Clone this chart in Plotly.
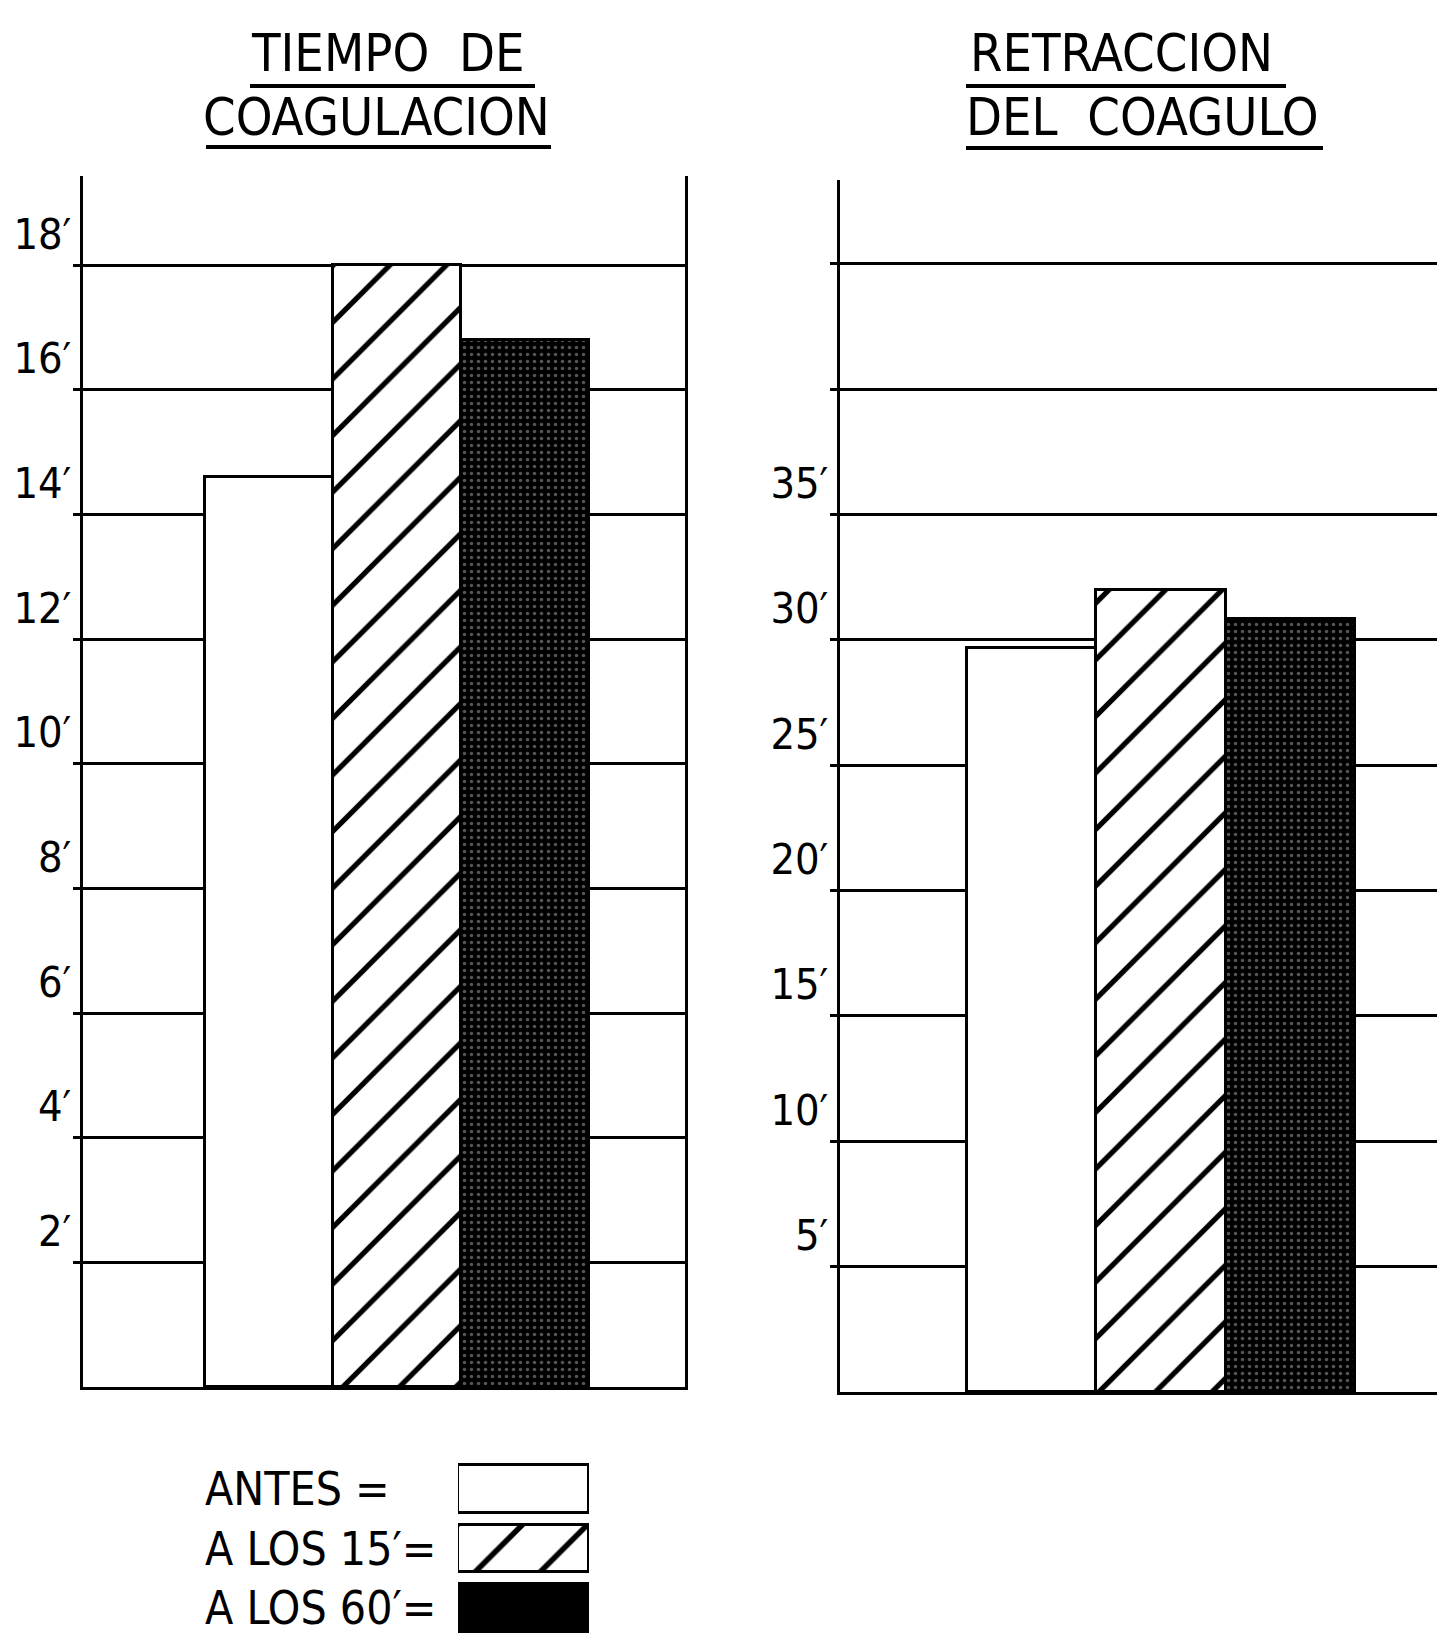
import plotly.graph_objects as go

# ---------------- data ----------------
categories = ["ANTES", "A LOS 15′", "A LOS 60′"]
coag_values = [14.6, 18.0, 16.8]          # minutes, tiempo de coagulacion
retr_values = [29.7, 32.0, 30.85]         # minutes, retraccion del coagulo
coag_tickvals = [2, 4, 6, 8, 10, 12, 14, 16, 18]
coag_ticktext = ["2′", "4′", "6′", "8′", "10′", "12′", "14′", "16′", "18′"]
retr_tickvals = [5, 10, 15, 20, 25, 30, 35, 40, 45]
retr_ticktext = ["5′", "10′", "15′", "20′", "25′", "30′", "35′", "", ""]
legend_labels = ["ANTES =", "A LOS 15′=", "A LOS 60′="]
legend_sizes = [1, 1, 1]

# ---------------- styles ----------------
W, H = 1445, 1636
FONT = "Liberation Sans Narrow, DejaVu Sans Condensed, Liberation Sans, sans-serif"


def px(x):
    return x / W


def py(y):
    return (H - y) / H


fills = ["white", "white", "black"]
patterns = [
    None,
    dict(shape="/", fgcolor="black", bgcolor="white", size=40, solidity=0.13,
         fillmode="replace"),
    dict(shape=".", fgcolor="#555555", bgcolor="black", size=7, solidity=0.2,
         fillmode="replace"),
]
legend_patterns = [
    None,
    dict(shape="/", fgcolor="black", bgcolor="white", size=46, solidity=0.12,
         fillmode="replace"),
    None,
]


def make_marker(i, pats):
    m = dict(color=fills[i], line=dict(color="black", width=3))
    if pats[i] is not None:
        m["pattern"] = pats[i]
    return m


fig = go.Figure()

for i, cat in enumerate(categories):
    fig.add_trace(go.Bar(x=[cat], y=[coag_values[i]], width=1,
                         marker=make_marker(i, patterns),
                         xaxis="x", yaxis="y", showlegend=False, hoverinfo="skip"))
    fig.add_trace(go.Bar(x=[cat], y=[retr_values[i]], width=1,
                         marker=make_marker(i, patterns),
                         xaxis="x2", yaxis="y2", showlegend=False, hoverinfo="skip"))
    fig.add_trace(go.Bar(x=[legend_sizes[i]], y=[cat], orientation="h", width=0.8,
                         marker=make_marker(i, legend_patterns),
                         xaxis="x3", yaxis="y3", showlegend=False, hoverinfo="skip"))

xax_common = dict(showline=True, linecolor="black", linewidth=3, mirror=False,
                  showticklabels=False, showgrid=False, zeroline=False, ticks="",
                  fixedrange=True)
yax_common = dict(showline=True, linecolor="black", linewidth=3, mirror=True,
                  showgrid=True, gridcolor="black", gridwidth=3, zeroline=False,
                  ticks="outside", ticklen=7, tickwidth=3, tickcolor="black",
                  ticklabelposition="outside top",
                  tickfont=dict(family=FONT, size=43, color="black"),
                  fixedrange=True)

fig.update_layout(
    width=W, height=H,
    margin=dict(l=0, r=0, t=0, b=0),
    paper_bgcolor="white", plot_bgcolor="white",
    bargap=0, barmode="overlay",
    xaxis=dict(domain=[px(75), px(677)], anchor="y", range=[-1.45, 3.25],
               **xax_common),
    yaxis=dict(domain=[py(1379), py(168)], anchor="x", range=[0, 19.43],
               tickvals=coag_tickvals, ticktext=coag_ticktext, **yax_common),
    xaxis2=dict(domain=[px(832), px(1440)], anchor="y2", range=[-1.48, 3.22],
                **xax_common),
    yaxis2=dict(domain=[py(1384), py(172)], anchor="x2", range=[0, 48.35],
                tickvals=retr_tickvals, ticktext=retr_ticktext, **yax_common),
    xaxis3=dict(domain=[px(450), px(581)], anchor="y3", range=[0, 1],
                visible=False, fixedrange=True),
    yaxis3=dict(domain=[0, py(1451)], anchor="x3", range=[2.6, -0.5],
                visible=False, fixedrange=True),
)

# titles
title_font = dict(family=FONT, size=52, color="black")
titles = [
    ("TIEMPO  DE", 380, 45),
    ("COAGULACION", 368, 109),
    ("RETRACCION", 1113, 45),
    ("DEL  COAGULO", 1134, 109),
]
for text, x, y in titles:
    fig.add_annotation(text=text, x=px(x), y=py(y), xref="paper", yref="paper",
                       xanchor="center", yanchor="middle", showarrow=False,
                       font=title_font)

underlines = [(242, 527, 78), (198, 543, 139), (958, 1278, 78), (958, 1315, 140)]
for x0, x1, y in underlines:
    fig.add_shape(type="line", xref="paper", yref="paper",
                  x0=px(x0), x1=px(x1), y0=py(y), y1=py(y),
                  line=dict(color="black", width=4))

# legend labels
for i, lab in enumerate(legend_labels):
    fig.add_annotation(text=lab, x=px(195), y=i, xref="paper", yref="y3",
                       xanchor="left", yanchor="middle", showarrow=False,
                       font=dict(family=FONT, size=46, color="black"))

fig.write_html("out.html")
